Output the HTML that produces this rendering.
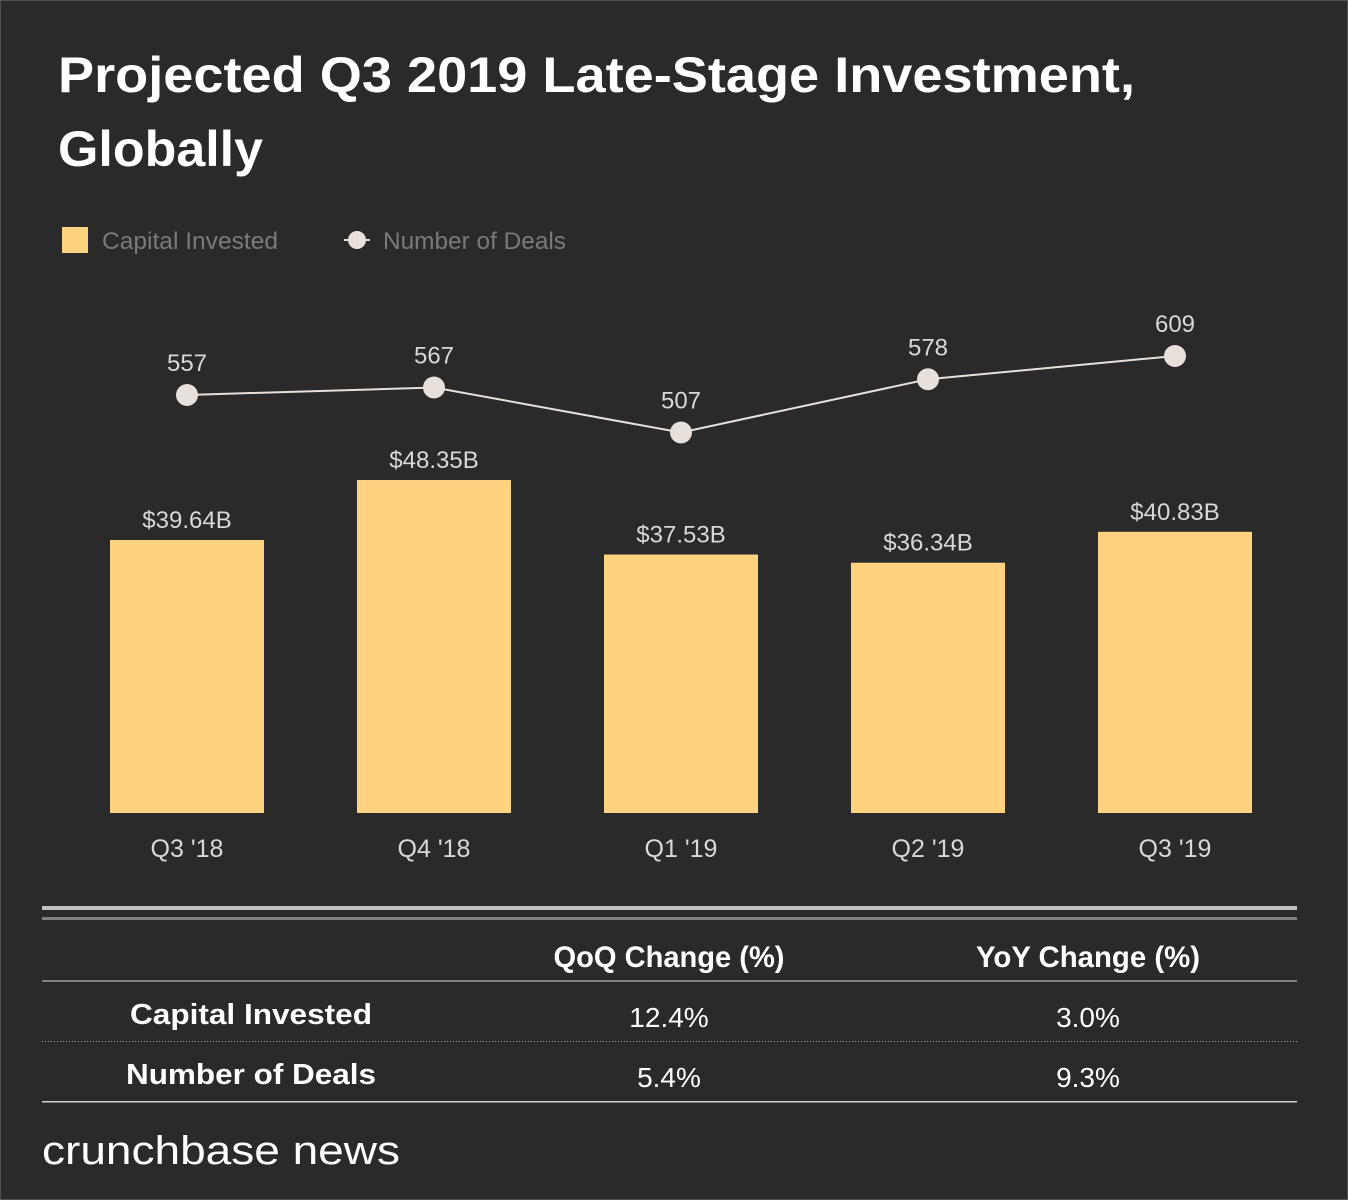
<!DOCTYPE html>
<html><head><meta charset="utf-8"><style>
html,body{margin:0;padding:0;background:#2a2a2a;}
svg{display:block;font-family:"Liberation Sans",sans-serif;}
</style></head><body>
<svg id="chart" width="1348" height="1200" viewBox="0 0 1348 1200">
<rect x="0.5" y="0.5" width="1347" height="1199" fill="#2a2a2a" stroke="#505050"/>
<text x="58" y="92" font-size="50" font-weight="bold" fill="#ffffff" textLength="1077" lengthAdjust="spacingAndGlyphs">Projected Q3 2019 Late-Stage Investment,</text>
<text x="58" y="166" font-size="50" font-weight="bold" fill="#ffffff" textLength="205" lengthAdjust="spacingAndGlyphs">Globally</text>
<g>
<rect x="62" y="227" width="26" height="26" fill="#ffd27f"/>
<text x="102" y="249" font-size="24" fill="#7a7a7a" textLength="176" lengthAdjust="spacingAndGlyphs">Capital Invested</text>
<line x1="344" y1="240" x2="370" y2="240" stroke="#e8e0da" stroke-width="2"/>
<circle cx="357" cy="240" r="9" fill="#e8e0da"/>
<text x="383" y="249" font-size="24" fill="#7a7a7a" textLength="183" lengthAdjust="spacingAndGlyphs">Number of Deals</text>
</g>
<g id="bars"></g><g id="line"></g>
<g>
<rect x="42" y="906" width="1255" height="4" fill="#c0c0c0"/>
<rect x="42" y="917" width="1255" height="3" fill="#808080"/>
<text x="669" y="967" font-size="30" font-weight="bold" fill="#fff" text-anchor="middle" textLength="231" lengthAdjust="spacingAndGlyphs">QoQ Change (%)</text>
<text x="1088" y="967" font-size="30" font-weight="bold" fill="#fff" text-anchor="middle" textLength="224" lengthAdjust="spacingAndGlyphs">YoY Change (%)</text>
<rect x="42" y="980" width="1255" height="2" fill="#808080"/>
<text x="251" y="1024" font-size="29" font-weight="bold" fill="#fff" text-anchor="middle" textLength="242" lengthAdjust="spacingAndGlyphs">Capital Invested</text>
<text x="669" y="1027" font-size="28" fill="#fff" text-anchor="middle">12.4%</text>
<text x="1088" y="1027" font-size="28" fill="#fff" text-anchor="middle">3.0%</text>
<line x1="42" y1="1041.5" x2="1297" y2="1041.5" stroke="#aaa" stroke-dasharray="1,2"/>
<text x="251" y="1084" font-size="29" font-weight="bold" fill="#fff" text-anchor="middle" textLength="250" lengthAdjust="spacingAndGlyphs">Number of Deals</text>
<text x="669" y="1087" font-size="28" fill="#fff" text-anchor="middle">5.4%</text>
<text x="1088" y="1087" font-size="28" fill="#fff" text-anchor="middle">9.3%</text>
<rect x="42" y="1101" width="1255" height="1.5" fill="#d0d0d0"/>
</g>
<text x="42" y="1164" font-size="40" fill="#fff" textLength="358" lengthAdjust="spacingAndGlyphs">crunchbase news</text>
</svg>
<script>
const categories=["Q3 '18","Q4 '18","Q1 '19","Q2 '19","Q3 '19"];
const capital=[39.64,48.35,37.53,36.34,40.83];
const capitalLabels=["$39.64B","$48.35B","$37.53B","$36.34B","$40.83B"];
const deals=[557,567,507,578,609];
const NS="http://www.w3.org/2000/svg";
function xPos(i){return 187+i*247;}
function yBar(v){return 813-v*6.887;}
function yLine(v){return 395-(v-557)*0.75;}
function mk(tag,attrs,parent){const e=document.createElementNS(NS,tag);for(const k in attrs)e.setAttribute(k,attrs[k]);parent.appendChild(e);return e;}
const gb=document.getElementById('bars'),gl=document.getElementById('line');
categories.forEach((c,i)=>{
  const r=mk('rect',{x:xPos(i)-77,y:yBar(capital[i]),width:154,height:813-yBar(capital[i]),fill:'#ffd27f'},gb);
  
  
  const t=mk('text',{x:xPos(i),y:yBar(capital[i])-12,'font-size':24,fill:'#d8d8d8','text-anchor':'middle'},gb);
  t.textContent=capitalLabels[i];
  
  
  const xl=mk('text',{x:xPos(i),y:857,'font-size':25,fill:'#d8d8d8','text-anchor':'middle'},gb);
  xl.textContent=c;
  
  
});
const pl=mk('polyline',{points:deals.map((v,i)=>xPos(i)+','+yLine(v)).join(' '),fill:'none',stroke:'#e8e0da','stroke-width':2},gl);


deals.forEach((v,i)=>{
  const c=mk('circle',{cx:xPos(i),cy:yLine(v),r:11,fill:'#e8e0da'},gl);
  
  
  const t=mk('text',{x:xPos(i),y:yLine(v)-24,'font-size':24,fill:'#d8d8d8','text-anchor':'middle'},gl);
  t.textContent=v;
  
  
});
</script>
</body></html>
